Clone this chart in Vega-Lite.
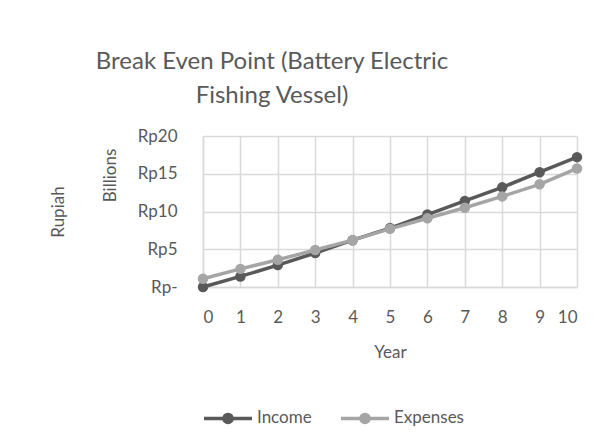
{
  "$schema": "https://vega.github.io/schema/vega-lite/v6.json",
  "width": 374,
  "height": 151,
  "padding": {"left": 49, "top": 50, "right": 20, "bottom": 10},
  "background": "white",
  "config": {"font": "Lato", "view": {"stroke": null}},
  "title": {
    "text": ["Break Even Point (Battery Electric", "Fishing Vessel)"],
    "fontSize": 24,
    "font": "Lato",
    "fontWeight": "normal",
    "color": "#595959",
    "lineHeight": 34,
    "anchor": "middle",
    "dx": -118,
    "offset": 19
  },
  "data": {
    "values": [
      {"year": 0, "series": "Income", "value": 0},
      {"year": 1, "series": "Income", "value": 1.4},
      {"year": 2, "series": "Income", "value": 2.9},
      {"year": 3, "series": "Income", "value": 4.5},
      {"year": 4, "series": "Income", "value": 6.2},
      {"year": 5, "series": "Income", "value": 7.8},
      {"year": 6, "series": "Income", "value": 9.6},
      {"year": 7, "series": "Income", "value": 11.4},
      {"year": 8, "series": "Income", "value": 13.2},
      {"year": 9, "series": "Income", "value": 15.2},
      {"year": 10, "series": "Income", "value": 17.2},
      {"year": 0, "series": "Expenses", "value": 1.1},
      {"year": 1, "series": "Expenses", "value": 2.4},
      {"year": 2, "series": "Expenses", "value": 3.6},
      {"year": 3, "series": "Expenses", "value": 4.9},
      {"year": 4, "series": "Expenses", "value": 6.2},
      {"year": 5, "series": "Expenses", "value": 7.7},
      {"year": 6, "series": "Expenses", "value": 9.1},
      {"year": 7, "series": "Expenses", "value": 10.5},
      {"year": 8, "series": "Expenses", "value": 12.0},
      {"year": 9, "series": "Expenses", "value": 13.6},
      {"year": 10, "series": "Expenses", "value": 15.7}
    ]
  },
  "encoding": {
    "x": {
      "field": "year",
      "type": "quantitative",
      "scale": {"domain": [0, 10], "nice": false},
      "axis": {
        "values": [0, 1, 2, 3, 4, 5, 6, 7, 8, 9, 10],
        "title": "Year",
        "grid": true,
        "gridColor": "#d9d9d9",
        "gridWidth": 1.5,
        "domainColor": "#d9d9d9",
        "domainWidth": 1.5,
        "ticks": false,
        "labelPadding": 22,
        "labelFontSize": 17,
        "labelColor": "#595959",
        "labelFont": "Lato",
        "titleFontSize": 17,
        "titleFontWeight": "normal",
        "titleColor": "#595959",
        "titleFont": "Lato",
        "titlePadding": 19
      }
    }
  },
  "layer": [
    {
      "encoding": {
        "y": {
          "field": "value",
          "type": "quantitative",
          "scale": {"domain": [0, 20], "nice": false},
          "axis": {
            "values": [0, 5, 10, 15, 20],
            "labelExpr": "datum.value == 0 ? 'Rp-' : 'Rp' + datum.value",
            "grid": true,
            "gridColor": "#d9d9d9",
            "gridWidth": 1.5,
            "domainColor": "#d9d9d9",
            "domainWidth": 1.5,
            "ticks": false,
            "labelPadding": 26,
            "labelFontSize": 17,
            "labelColor": "#595959",
            "labelFont": "Lato",
            "title": "Rupiah",
            "titleFontSize": 17,
            "titleFontWeight": "normal",
            "titleColor": "#595959",
            "titleFont": "Lato",
            "titleX": -145,
            "titleY": 75.5,
            "titleBaseline": "middle"
          }
        },
        "color": {
          "field": "series",
          "type": "nominal",
          "scale": {"domain": ["Income", "Expenses"], "range": ["#595959", "#a5a5a5"]},
          "legend": {
            "orient": "none",
            "legendX": -1,
            "legendY": 256,
            "direction": "horizontal",
            "title": null,
            "symbolType": "M-1,0H1M0.17,0A0.17,0.17,0,1,1,-0.17,0A0.17,0.17,0,1,1,0.17,0Z",
            "symbolSize": 2304,
            "symbolStrokeWidth": 3.5,
            "labelFontSize": 17,
            "labelFont": "Lato",
            "labelColor": "#595959",
            "labelOffset": 3,
            "columnPadding": 22,
            "encode": {
              "symbols": {
                "update": {
                  "fill": {"scale": "color", "field": "value"},
                  "stroke": {"scale": "color", "field": "value"},
                  "strokeWidth": {"value": 3.5},
                  "opacity": {"value": 1}
                }
              }
            }
          }
        }
      },
      "layer": [
        {"transform": [{"filter": "datum.series == 'Income'"}], "mark": {"type": "line", "strokeWidth": 3.5}},
        {"transform": [{"filter": "datum.series == 'Income'"}], "mark": {"type": "point", "filled": true, "size": 110, "opacity": 1}},
        {"transform": [{"filter": "datum.series == 'Expenses'"}], "mark": {"type": "line", "strokeWidth": 3.5}},
        {"transform": [{"filter": "datum.series == 'Expenses'"}], "mark": {"type": "point", "filled": true, "size": 110, "opacity": 1}}
      ]
    },
    {
      "mark": {"type": "point", "opacity": 0},
      "encoding": {
        "y": {
          "field": "value",
          "type": "quantitative",
          "scale": {"domain": [0, 20], "nice": false},
          "axis": {
            "orient": "left",
            "labels": false,
            "ticks": false,
            "domain": false,
            "grid": false,
            "title": "Billions",
            "titleFontSize": 17,
            "titleFontWeight": "normal",
            "titleColor": "#595959",
            "titleFont": "Lato",
            "titleX": -93,
            "titleY": 39,
            "titleBaseline": "middle"
          }
        }
      }
    }
  ],
  "resolve": {"axis": {"y": "independent"}}
}
